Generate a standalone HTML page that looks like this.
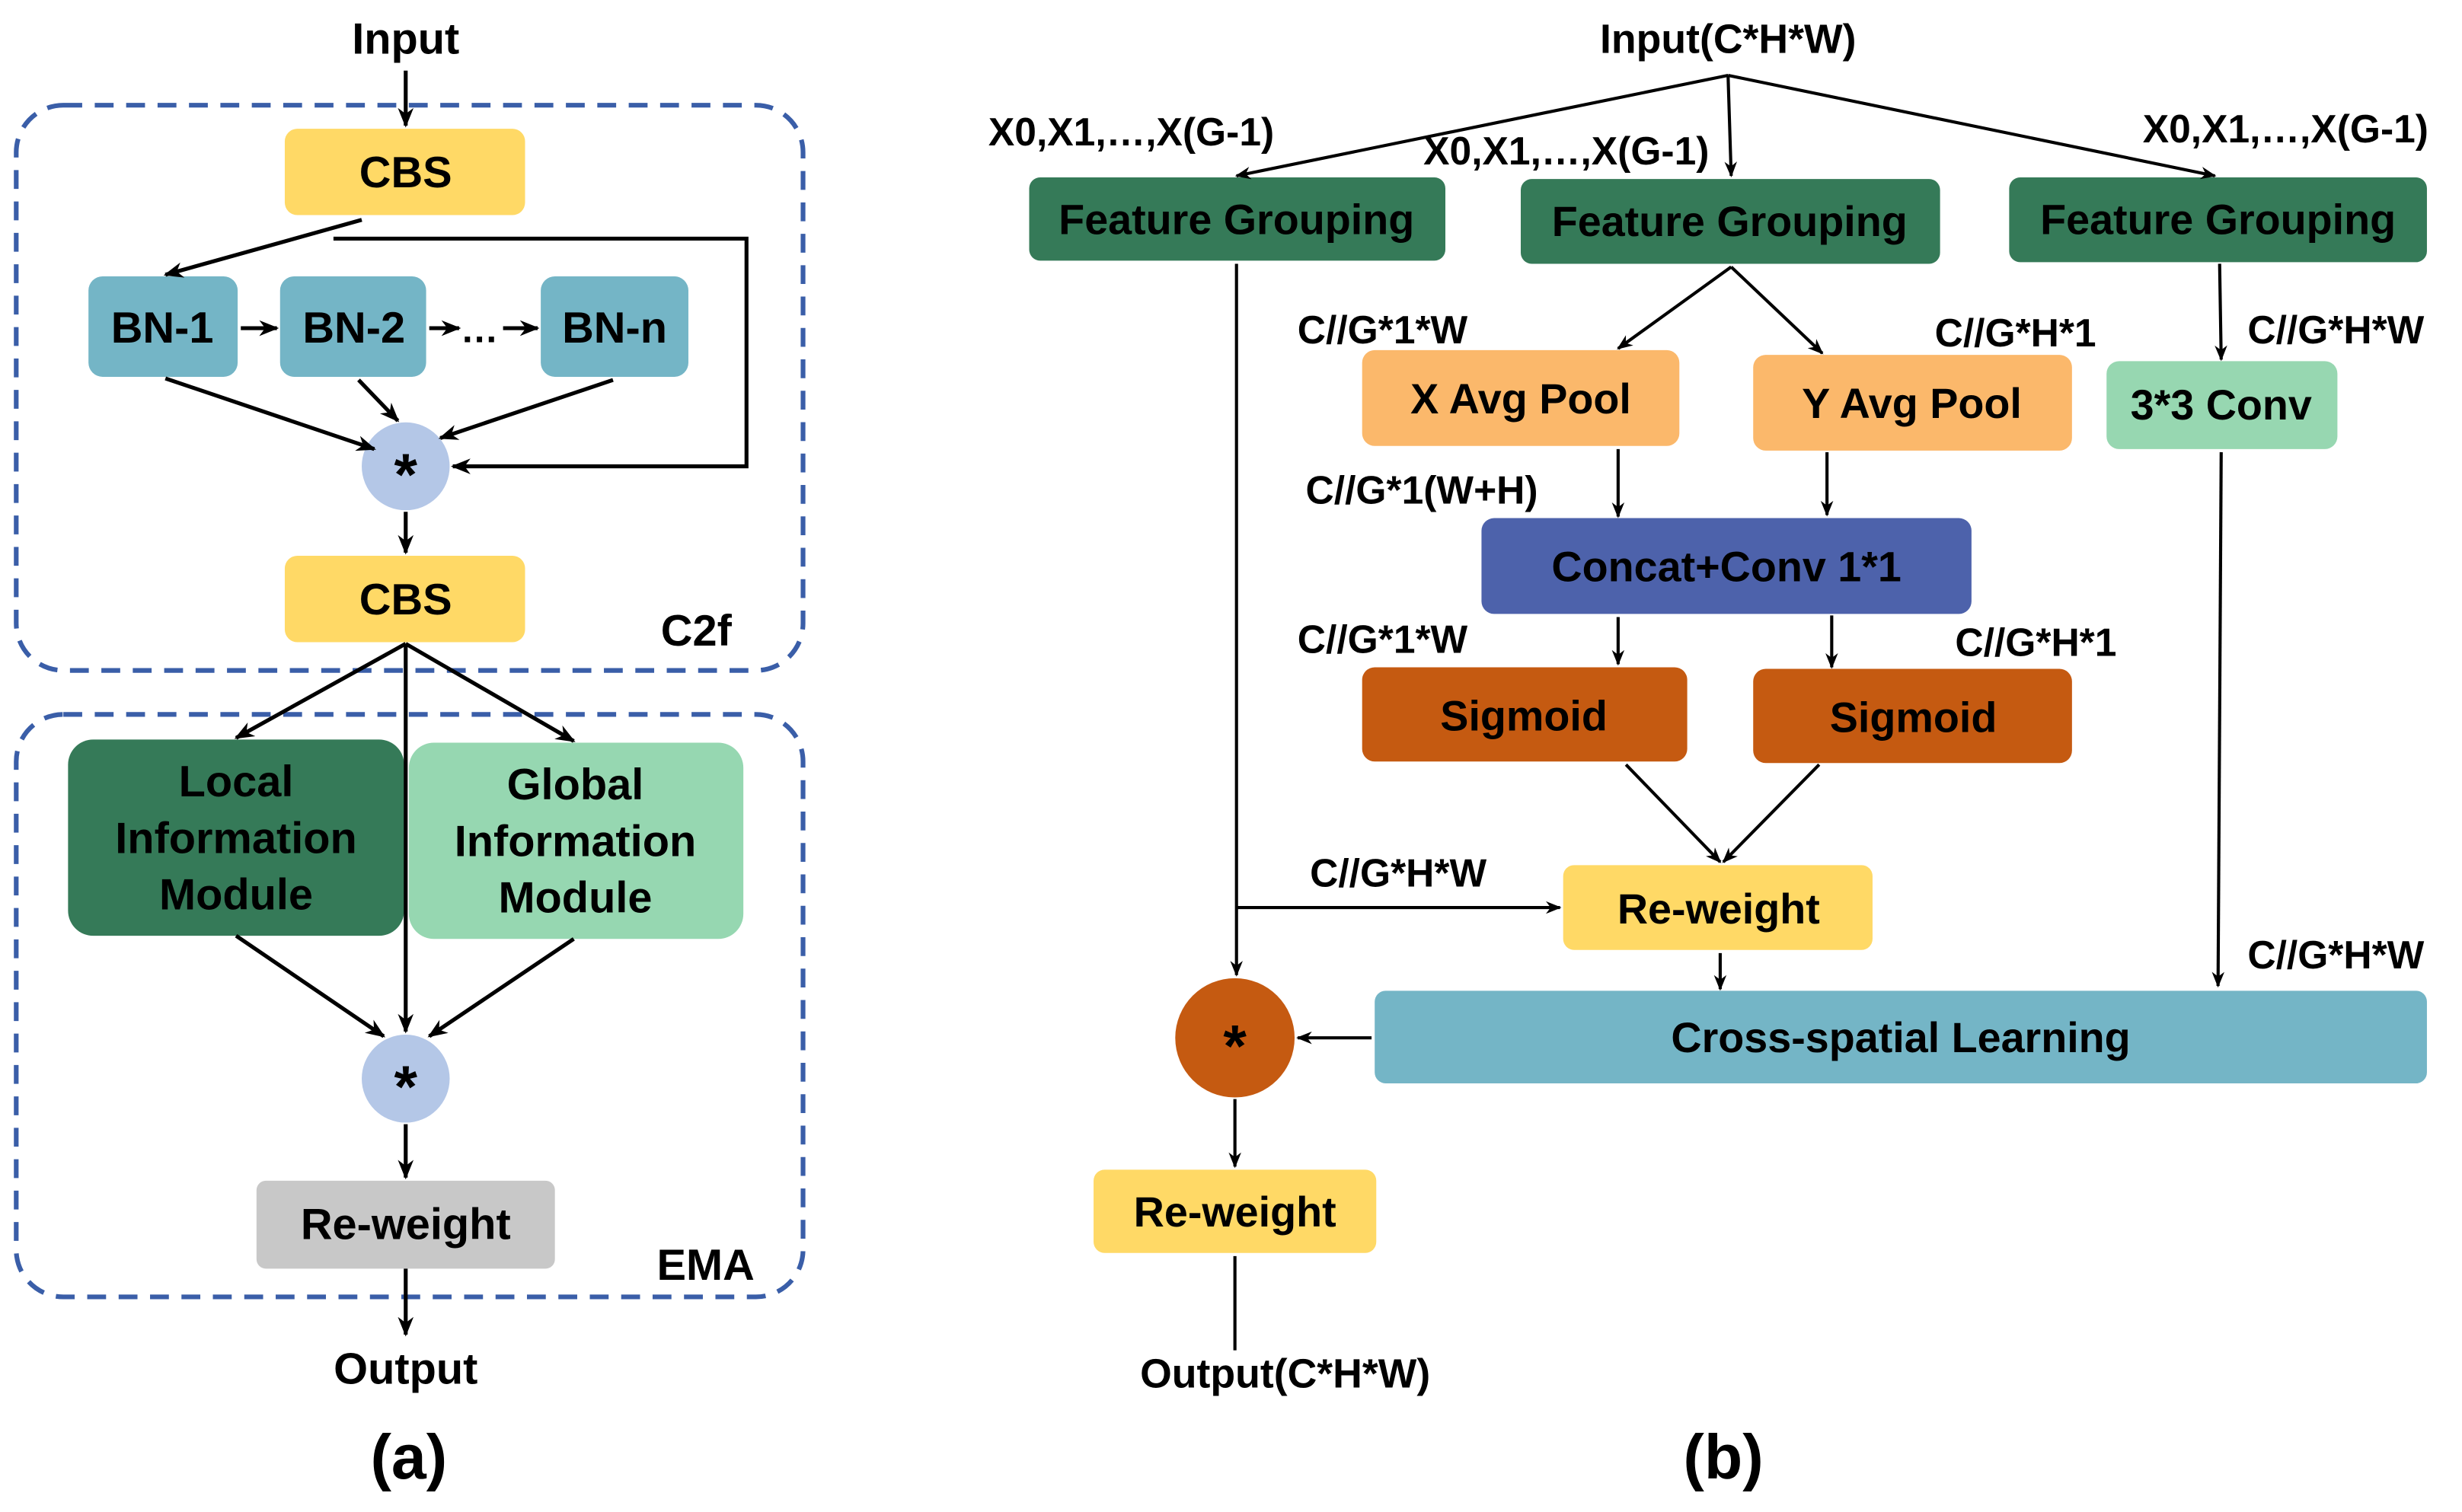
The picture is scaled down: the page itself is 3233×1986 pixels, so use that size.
<!DOCTYPE html>
<html><head><meta charset="utf-8"><style>
html,body{margin:0;padding:0;background:#fff;}
svg{display:block}
text{font-family:"Liberation Sans",sans-serif;font-weight:bold;fill:#000;text-anchor:middle;dominant-baseline:central;}
</style></head><body>
<svg width="3233" height="1986" viewBox="0 0 1567 963" xmlns="http://www.w3.org/2000/svg">
<defs>
<marker id="a" viewBox="0 0 10 10" refX="9" refY="5" markerWidth="5" markerHeight="5" orient="auto-start-reverse"><path d="M0,1 L10,5 L0,9 L3,5 z" fill="#000"/></marker>
</defs>
<rect width="1567" height="963" fill="#fff"/>
<!-- (a) -->
<g stroke="#3a5ea8" stroke-width="3" stroke-dasharray="12,8" fill="none">
<rect x="10" y="67" width="501" height="360" rx="30"/>
<rect x="10" y="455" width="501" height="371" rx="30"/>
</g>
<text x="258" y="25" font-size="28">Input</text>
<rect x="181" y="82" width="153" height="55" rx="8" fill="#ffd966"/><text x="258" y="110" font-size="28">CBS</text>
<rect x="56" y="176" width="95" height="64" rx="9" fill="#74b5c6"/><text x="103" y="209" font-size="28">BN-1</text>
<rect x="178" y="176" width="93" height="64" rx="9" fill="#74b5c6"/><text x="225" y="209" font-size="28">BN-2</text>
<rect x="344" y="176" width="94" height="64" rx="9" fill="#74b5c6"/><text x="391" y="209" font-size="28">BN-n</text>
<text x="305" y="210" font-size="24">…</text>
<circle cx="258" cy="297" r="28" fill="#b4c7e7"/><text x="258" y="302" font-size="38" font-weight="normal">*</text>
<rect x="181" y="354" width="153" height="55" rx="8" fill="#ffd966"/><text x="258" y="382" font-size="28">CBS</text>
<text x="443" y="402" font-size="28">C2f</text>
<rect x="43" y="471" width="214" height="125" rx="16" fill="#357a58"/>
<text x="150" y="498" font-size="28">Local</text><text x="150" y="534" font-size="28">Information</text><text x="150" y="570" font-size="28">Module</text>
<rect x="260" y="473" width="213" height="125" rx="16" fill="#96d7b1"/>
<text x="366" y="500" font-size="28">Global</text><text x="366" y="536" font-size="28">Information</text><text x="366" y="572" font-size="28">Module</text>
<circle cx="258" cy="687" r="28" fill="#b4c7e7"/><text x="258" y="692" font-size="38" font-weight="normal">*</text>
<rect x="163" y="752" width="190" height="56" rx="6" fill="#c8c8c8"/><text x="258" y="780" font-size="28">Re-weight</text>
<text x="449" y="806" font-size="28">EMA</text>
<text x="258" y="872" font-size="28">Output</text>
<text x="260" y="928" font-size="40" font-weight="normal">(a)</text>
<g stroke="#000" stroke-width="2.5" fill="none">
<line x1="258" y1="45" x2="258" y2="80" marker-end="url(#a)"/>
<line x1="230" y1="140" x2="105" y2="175" marker-end="url(#a)"/>
<polyline points="212,152 475,152 475,297 288,297" marker-end="url(#a)"/>
<line x1="153" y1="209" x2="176" y2="209" marker-end="url(#a)"/>
<line x1="273" y1="209" x2="292" y2="209" marker-end="url(#a)"/>
<line x1="320" y1="209" x2="342" y2="209" marker-end="url(#a)"/>
<line x1="105" y1="241" x2="238" y2="286" marker-end="url(#a)"/>
<line x1="228" y1="242" x2="253" y2="268" marker-end="url(#a)"/>
<line x1="390" y1="242" x2="280" y2="279" marker-end="url(#a)"/>
<line x1="258" y1="326" x2="258" y2="352" marker-end="url(#a)"/>
<line x1="258" y1="410" x2="150" y2="470" marker-end="url(#a)"/>
<line x1="258" y1="410" x2="258" y2="657" marker-end="url(#a)"/>
<line x1="258" y1="410" x2="365" y2="472" marker-end="url(#a)"/>
<line x1="150" y1="596" x2="244" y2="660" marker-end="url(#a)"/>
<line x1="365" y1="598" x2="273" y2="660" marker-end="url(#a)"/>
<line x1="258" y1="716" x2="258" y2="750" marker-end="url(#a)"/>
<line x1="258" y1="808" x2="258" y2="850" marker-end="url(#a)"/>
</g>
<!-- (b) -->
<text x="1100" y="25" font-size="26">Input(C*H*W)</text>
<text x="720" y="84" font-size="25">X0,X1,…,X(G-1)</text>
<text x="997" y="96" font-size="25">X0,X1,…,X(G-1)</text>
<text x="1455" y="82" font-size="25">X0,X1,…,X(G-1)</text>
<rect x="655" y="113" width="265" height="53" rx="7" fill="#357a58"/><text x="787" y="140" font-size="27">Feature Grouping</text>
<rect x="968" y="114" width="267" height="54" rx="7" fill="#357a58"/><text x="1101" y="141" font-size="27">Feature Grouping</text>
<rect x="1279" y="113" width="266" height="54" rx="7" fill="#357a58"/><text x="1412" y="140" font-size="27">Feature Grouping</text>
<text x="880" y="210" font-size="25">C//G*1*W</text>
<text x="1283" y="212" font-size="25">C//G*H*1</text>
<text x="1487" y="210" font-size="25">C//G*H*W</text>
<rect x="867" y="223" width="202" height="61" rx="8" fill="#fbb86b"/><text x="968" y="254" font-size="27">X Avg Pool</text>
<rect x="1116" y="226" width="203" height="61" rx="8" fill="#fbb86b"/><text x="1217" y="257" font-size="27">Y Avg Pool</text>
<rect x="1341" y="230" width="147" height="56" rx="8" fill="#97d7b1"/><text x="1414" y="258" font-size="27">3*3 Conv</text>
<text x="905" y="312" font-size="25">C//G*1(W+H)</text>
<rect x="943" y="330" width="312" height="61" rx="8" fill="#4d62ab"/><text x="1099" y="361" font-size="27">Concat+Conv 1*1</text>
<text x="880" y="407" font-size="25">C//G*1*W</text>
<text x="1296" y="409" font-size="25">C//G*H*1</text>
<rect x="867" y="425" width="207" height="60" rx="8" fill="#c55a11"/><text x="970" y="456" font-size="27">Sigmoid</text>
<rect x="1116" y="426" width="203" height="60" rx="8" fill="#c55a11"/><text x="1218" y="457" font-size="27">Sigmoid</text>
<text x="890" y="556" font-size="25">C//G*H*W</text>
<rect x="995" y="551" width="197" height="54" rx="7" fill="#ffd966"/><text x="1094" y="579" font-size="27">Re-weight</text>
<text x="1487" y="608" font-size="25">C//G*H*W</text>
<rect x="875" y="631" width="670" height="59" rx="7" fill="#74b5c6"/><text x="1210" y="661" font-size="27">Cross-spatial Learning</text>
<circle cx="786" cy="661" r="38" fill="#c55a11"/><text x="786" y="666" font-size="38" font-weight="normal">*</text>
<rect x="696" y="745" width="180" height="53" rx="7" fill="#ffd966"/><text x="786" y="772" font-size="27">Re-weight</text>
<text x="818" y="875" font-size="26">Output(C*H*W)</text>
<text x="1097" y="928" font-size="40" font-weight="normal">(b)</text>
<g stroke="#000" stroke-width="2" fill="none">
<line x1="1100" y1="48" x2="787" y2="112" marker-end="url(#a)"/>
<line x1="1100" y1="48" x2="1102" y2="112" marker-end="url(#a)"/>
<line x1="1100" y1="48" x2="1410" y2="112" marker-end="url(#a)"/>
<line x1="787" y1="168" x2="787" y2="621" marker-end="url(#a)"/>
<line x1="787" y1="578" x2="993" y2="578" marker-end="url(#a)"/>
<line x1="1102" y1="170" x2="1030" y2="222" marker-end="url(#a)"/>
<line x1="1102" y1="170" x2="1160" y2="225" marker-end="url(#a)"/>
<line x1="1413" y1="168" x2="1414" y2="229" marker-end="url(#a)"/>
<line x1="1030" y1="286" x2="1030" y2="329" marker-end="url(#a)"/>
<line x1="1163" y1="288" x2="1163" y2="328" marker-end="url(#a)"/>
<line x1="1030" y1="393" x2="1030" y2="423" marker-end="url(#a)"/>
<line x1="1166" y1="392" x2="1166" y2="425" marker-end="url(#a)"/>
<line x1="1035" y1="487" x2="1095" y2="549" marker-end="url(#a)"/>
<line x1="1158" y1="487" x2="1097" y2="549" marker-end="url(#a)"/>
<line x1="1095" y1="607" x2="1095" y2="630" marker-end="url(#a)"/>
<line x1="1414" y1="288" x2="1412" y2="628" marker-end="url(#a)"/>
<line x1="873" y1="661" x2="826" y2="661" marker-end="url(#a)"/>
<line x1="786" y1="700" x2="786" y2="743" marker-end="url(#a)"/>
<line x1="786" y1="800" x2="786" y2="860"/>
</g>
</svg>
</body></html>
